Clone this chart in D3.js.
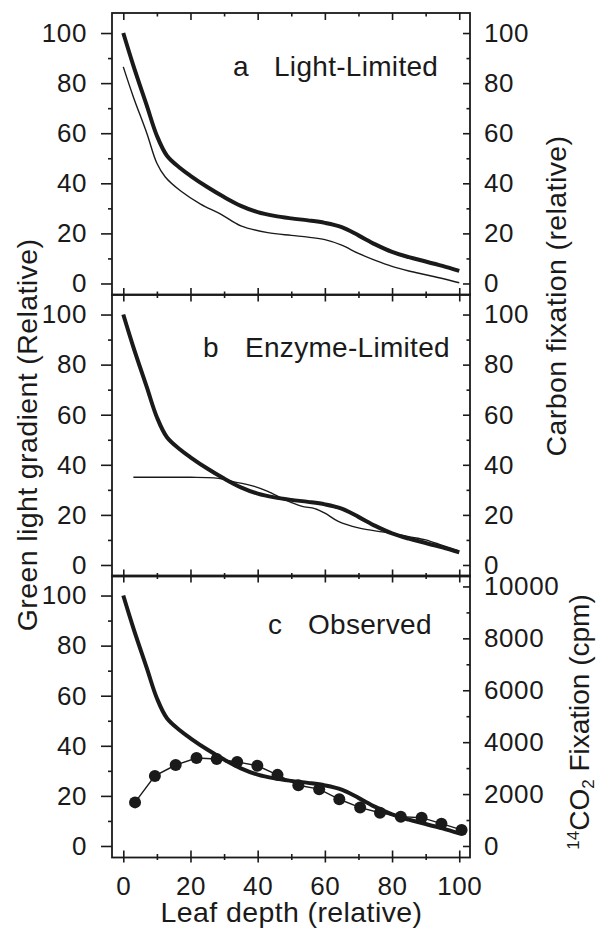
<!DOCTYPE html>
<html>
<head>
<meta charset="utf-8">
<script src="https://cdn.jsdelivr.net/npm/d3@7"></script>
<style>
  html, body { margin: 0; padding: 0; background: #fff; }
  svg { display: block; }
  text { font-family: "Liberation Sans", Arial, Helvetica, sans-serif; fill: #1a1a1a; }
</style>
</head>
<body>
<svg id="chart" width="597" height="930"></svg>
<script>
// ---------------- DATA ----------------
// Leaf depth (relative) sample positions for the green light gradient (thick curve, all panels)
const lightDepth = [0, 3, 7, 10, 13, 17, 20, 25, 30, 35, 40, 45, 50, 55, 60, 65, 70, 75, 80, 85, 90, 95, 100];
const lightGradient = [100, 87, 71, 59, 51, 46, 43, 38.5, 34.5, 31, 28.5, 27, 26, 25.2, 24.2, 22.5, 19.2, 15.6, 12.6, 10.5, 8.8, 7, 5];

// Panel a: light-limited carbon fixation (thin curve)
const lightLimDepth = [0, 3, 7, 10, 12.5, 17, 23, 29, 35, 43, 50, 55, 60, 65, 70, 75, 80, 85, 90, 95, 100];
const lightLimited = [86.5, 74.5, 60, 48, 42.5, 37, 31.7, 27.7, 23, 20.3, 19.2, 18.5, 17.5, 15.3, 12, 9.2, 6.8, 5, 3.5, 2, 0.3];

// Panel b: enzyme-limited carbon fixation (thin curve)
const enzymeDepth = [3, 10, 20, 27, 30, 33, 36, 39, 43, 48, 53, 57, 60, 64, 70, 77, 80, 85, 90, 95, 100];
const enzymeLimited = [35, 35, 35, 34.8, 34.2, 33.2, 32.4, 31.4, 29.4, 26.1, 23.5, 22.5, 20.7, 17.4, 14.8, 13.2, 12.6, 11.3, 10, 7.8, 5.6];

// Panel c: observed 14CO2 fixation (cpm)
const observedDepth = [3.5, 9.4, 15.6, 21.8, 27.8, 33.9, 39.9, 45.9, 52.1, 58.3, 64.3, 70.5, 76.4, 82.6, 88.8, 94.7, 100.7];
const observedCpm = [1680, 2700, 3120, 3390, 3350, 3240, 3090, 2740, 2340, 2190, 1800, 1480, 1280, 1130, 1090, 860, 620];

// Tick values / labels
const xMajorTicks = [0, 20, 40, 60, 80, 100];
const xMinorTicks = [10, 30, 50, 70, 90];
const yMajorTicks = [0, 20, 40, 60, 80, 100];
const yMinorTicks = [10, 30, 50, 70, 90];
const cpmMajorTicks = [0, 2000, 4000, 6000, 8000, 10000];
const cpmMinorTicks = [1000, 3000, 5000, 7000, 9000];

const panelLetters = ["a", "b", "c"];
const panelNames = ["Light-Limited", "Enzyme-Limited", "Observed"];
const leftTitle = "Green light gradient (Relative)";
const rightTitleAB = "Carbon fixation (relative)";
const xTitle = "Leaf depth (relative)";

// ---------------- LAYOUT ----------------
const svg = d3.select("#chart");
const frameL = 112, frameR = 470;
const panelTops = [13, 294.5, 575.5];
const panelH = 282;
const tickFont = 26, labelFont = 28, titleFont = 28.5;
const ink = "#1a1a1a";

const x = d3.scaleLinear().domain([-3.36, 103.2]).range([frameL, frameR]);
const yDomain = [-4.6, 108];
const cpmPerUnit = 96.5;

const smoothLine = (ys) => d3.line()
  .x(d => x(d[0])).y(d => ys(d[1]))
  .curve(d3.curveCatmullRom.alpha(0.5));

function styleAxis(g) {
  g.select(".domain").remove();
  g.selectAll("line").attr("stroke", ink).attr("stroke-width", 1.6);
  g.selectAll("text").attr("font-size", tickFont).attr("fill", ink)
    .style("font-family", '"Liberation Sans", Arial, sans-serif')
    .style("letter-spacing", "0.6px");
}

const labelPos = [
  { lx: 233, nx: 274, by: 76 },
  { lx: 203, nx: 245, by: 357 },
  { lx: 268, nx: 308, by: 634 }
];

panelTops.forEach((top, p) => {
  const bottom = top + panelH;
  const y = d3.scaleLinear().domain(yDomain).range([bottom, top]);
  const g = svg.append("g");

  // Left axis (outward ticks)
  g.append("g").attr("transform", `translate(${frameL},0)`)
    .call(d3.axisLeft(y).tickValues(yMajorTicks).tickSize(11).tickPadding(14).tickFormat(d3.format("d")))
    .call(styleAxis);
  g.append("g").attr("transform", `translate(${frameL},0)`)
    .call(d3.axisLeft(y).tickValues(yMinorTicks).tickSize(4).tickFormat(""))
    .call(styleAxis);

  // Right axis (inward ticks)
  let yr = y, rMaj = yMajorTicks, rMin = yMinorTicks;
  if (p === 2) {
    yr = d3.scaleLinear().domain([yDomain[0] * cpmPerUnit, yDomain[1] * cpmPerUnit]).range([bottom, top]);
    rMaj = cpmMajorTicks; rMin = cpmMinorTicks;
  }
  g.append("g").attr("transform", `translate(${frameR},0)`)
    .call(d3.axisRight(yr).tickValues(rMaj).tickSize(-7).tickPadding(14).tickFormat(d3.format("d")))
    .call(styleAxis);
  g.append("g").attr("transform", `translate(${frameR},0)`)
    .call(d3.axisRight(yr).tickValues(rMin).tickSize(-3.5).tickFormat(""))
    .call(styleAxis);

  // X ticks inward at top and bottom of each panel
  g.append("g").attr("transform", `translate(0,${top})`)
    .call(d3.axisBottom(x).tickValues(xMajorTicks).tickSize(7).tickFormat(""))
    .call(styleAxis);
  g.append("g").attr("transform", `translate(0,${top})`)
    .call(d3.axisBottom(x).tickValues(xMinorTicks).tickSize(3.5).tickFormat(""))
    .call(styleAxis);
  g.append("g").attr("transform", `translate(0,${bottom})`)
    .call(d3.axisTop(x).tickValues(xMajorTicks).tickSize(7).tickFormat(""))
    .call(styleAxis);
  g.append("g").attr("transform", `translate(0,${bottom})`)
    .call(d3.axisTop(x).tickValues(xMinorTicks).tickSize(3.5).tickFormat(""))
    .call(styleAxis);

  if (p === 2) {
    g.append("g").attr("transform", `translate(0,${bottom})`)
      .call(d3.axisBottom(x).tickValues(xMajorTicks).tickSize(5).tickPadding(14).tickFormat(d3.format("d")))
      .call(styleAxis);
    g.append("g").attr("transform", `translate(0,${bottom})`)
      .call(d3.axisBottom(x).tickValues(xMinorTicks).tickSize(2.5).tickFormat(""))
      .call(styleAxis);
  }

  // Frame
  g.append("rect")
    .attr("x", frameL).attr("y", top)
    .attr("width", frameR - frameL).attr("height", panelH)
    .attr("fill", "none").attr("stroke", ink).attr("stroke-width", 1.8);

  // Thin curves
  if (p === 0) {
    g.append("path").datum(d3.zip(lightLimDepth, lightLimited))
      .attr("d", smoothLine(y)).attr("fill", "none").attr("stroke", ink).attr("stroke-width", 1.4);
  } else if (p === 1) {
    g.append("path").datum(d3.zip(enzymeDepth, enzymeLimited))
      .attr("d", smoothLine(y)).attr("fill", "none").attr("stroke", ink).attr("stroke-width", 1.4);
  }

  // Thick light-gradient curve
  g.append("path").datum(d3.zip(lightDepth, lightGradient))
    .attr("d", smoothLine(y)).attr("fill", "none").attr("stroke", ink)
    .attr("stroke-width", 4).attr("stroke-linejoin", "round").attr("stroke-linecap", "butt");

  // Observed dots
  if (p === 2) {
    const obs = d3.zip(observedDepth, observedCpm);
    g.append("path").datum(obs)
      .attr("d", d3.line().x(d => x(d[0])).y(d => yr(d[1])))
      .attr("fill", "none").attr("stroke", ink).attr("stroke-width", 1.4);
    g.selectAll("circle.obs").data(obs).join("circle")
      .attr("class", "obs")
      .attr("cx", d => x(d[0])).attr("cy", d => yr(d[1])).attr("r", 6)
      .attr("fill", ink);
  }

  // Panel labels
  const lp = labelPos[p];
  g.append("text").attr("x", lp.lx).attr("y", lp.by).attr("font-size", labelFont).text(panelLetters[p]);
  g.append("text").attr("x", lp.nx).attr("y", lp.by).attr("font-size", labelFont)
    .style("letter-spacing", "0.3px").text(panelNames[p]);
});

// Axis titles
svg.append("text")
  .attr("transform", `translate(36.5,435) rotate(-90)`)
  .attr("text-anchor", "middle").attr("font-size", titleFont)
  .style("letter-spacing", "0.4px")
  .text(leftTitle);

svg.append("text")
  .attr("transform", `translate(566,296) rotate(-90)`)
  .attr("text-anchor", "middle").attr("font-size", titleFont)
  .style("letter-spacing", "0.4px")
  .text(rightTitleAB);

const rc = svg.append("text")
  .attr("transform", `translate(589,722) rotate(-90)`)
  .attr("text-anchor", "middle").attr("font-size", 28);
rc.append("tspan").attr("font-size", 17).attr("dy", -10).text("14");
rc.append("tspan").attr("dy", 10).text("CO");
rc.append("tspan").attr("font-size", 17).attr("dy", 5).text("2");
rc.append("tspan").attr("dy", -5).text(" Fixation (cpm)");

svg.append("text")
  .attr("x", 291.5).attr("y", 922)
  .attr("text-anchor", "middle").attr("font-size", titleFont)
  .style("letter-spacing", "0.4px")
  .text(xTitle);
</script>
</body>
</html>
